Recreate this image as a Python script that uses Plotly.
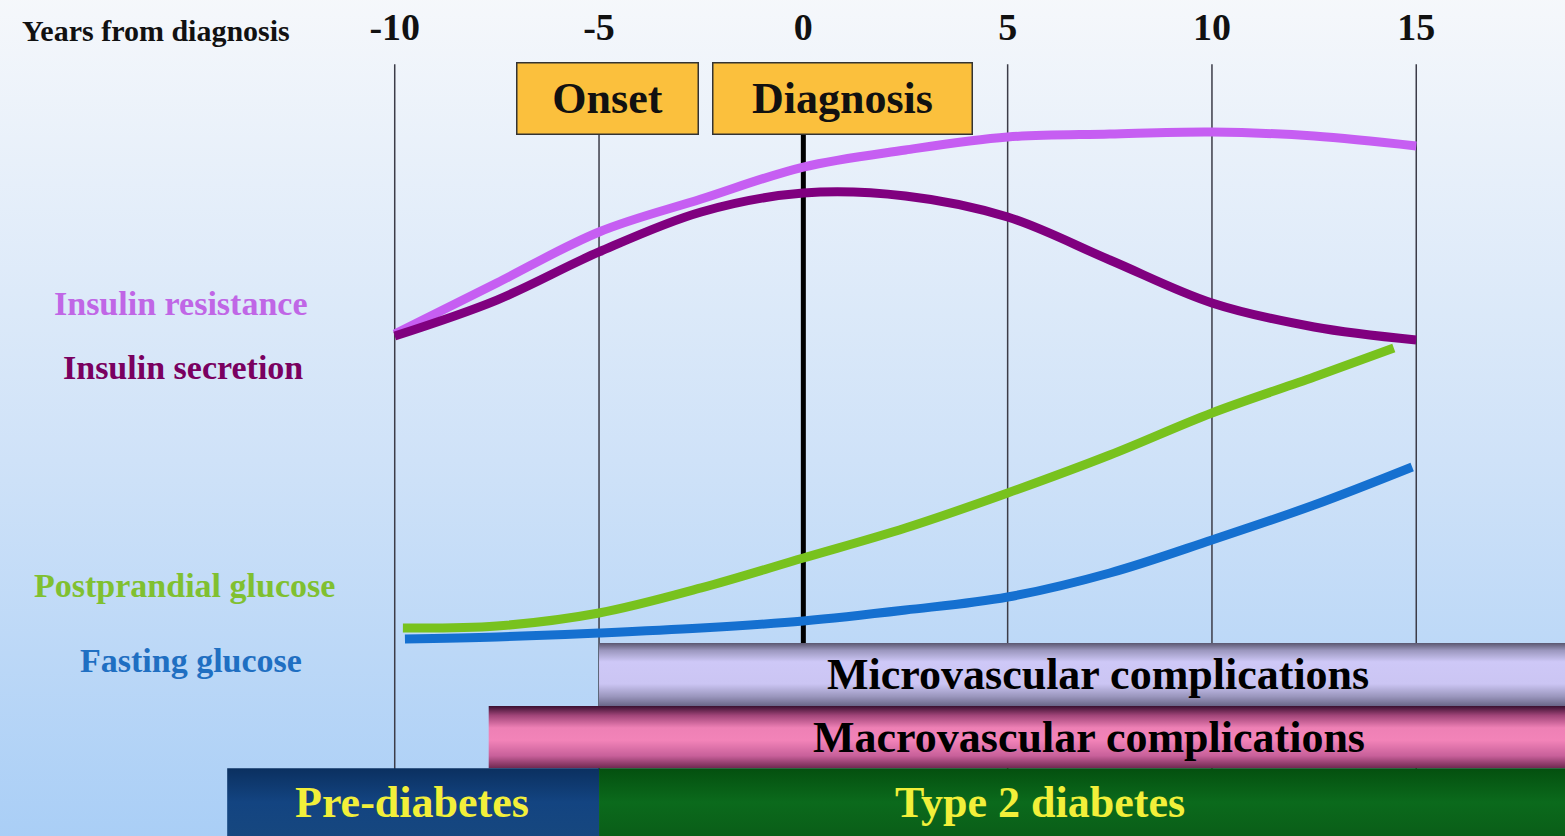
import plotly.graph_objects as go

# ---------------- data ----------------
tick_years = [-10, -5, 0, 5, 10, 15]
tick_labels = ["-10", "-5", "0", "5", "10", "15"]

res_years = [-10, -7.5, -5, -2.5, 0, 2.5, 5, 7.5, 10, 12.5, 15]
insulin_resistance = [60.05, 66.15, 72.25, 76.19, 80.02, 82.06, 83.61, 83.97, 84.21, 83.73, 82.54]

sec_years = [-10, -7.5, -5, -2.5, 0, 2.5, 5, 7.5, 10, 12.5, 15]
insulin_secretion = [59.81, 64.11, 69.86, 74.64, 76.91, 76.56, 74.04, 68.90, 63.76, 60.89, 59.33]

pp_years = [-9.8, -7.5, -5, -2.5, 0, 2.5, 5, 7.5, 10, 12.5, 14.45]
postprandial_glucose = [24.88, 25.12, 26.67, 29.67, 33.25, 36.84, 41.03, 45.57, 50.60, 54.90, 58.37]

fg_years = [-9.75, -7.5, -5, -2.5, 0, 2.5, 5, 7.5, 10, 12.5, 14.9]
fasting_glucose = [23.56, 23.80, 24.28, 24.88, 25.72, 27.03, 28.59, 31.46, 35.41, 39.59, 44.14]

band_labels = ["Microvascular complications", "Macrovascular complications",
               "Pre-diabetes", "Type 2 diabetes"]
band_start = [-5, -7.7, -14.1, -5]
band_end = [20, 20, -5, 20]
band_low = [15.55, 8.1, 0, 0]
band_high = [23.1, 15.55, 8.1, 8.1]
band_label_x = [7.2, 7.0, -9.57, 5.8]

event_labels = ["Onset", "Diagnosis"]
event_x = [-4.8, 0.96]

series_labels = ["Insulin resistance", "Insulin secretion",
                 "Postprandial glucose", "Fasting glucose"]

# ---------------- styles ----------------
W, H = 1565, 836
X_RANGE = [-19.66, 18.64]
SERIF = "Liberation Serif, Times New Roman, Times, serif"

curve_colors = ["#c65ef2", "#80007f", "#78c21e", "#1570d0"]
label_colors = ["#c066e6", "#7a0060", "#80c030", "#1f6fc2"]
band_scales = [
    [[0, "#6a6688"], [0.15, "#9a96bd"], [0.35, "#cbc5f3"], [0.7, "#cec8f7"],
     [0.88, "#9b97be"], [1, "#5a566e"]],
    [[0, "#6e2850"], [0.2, "#c8609a"], [0.45, "#f283b8"], [0.65, "#ee80b5"],
     [0.85, "#a04478"], [1, "#3a1030"]],
    [[0, "#16477f"], [0.5, "#134481"], [1, "#0b3060"]],
    [[0, "#0a5e18"], [0.5, "#0b6a1c"], [1, "#04500f"]],
]
band_text_colors = ["#000000", "#000000", "#f2ef3a", "#f2ef3a"]
series_label_pos = [(180, 303), (183, 367), (184, 585), (191, 660)]

fig = go.Figure()

# background gradient
fig.add_trace(go.Scatter(
    x=[X_RANGE[0] - 1, X_RANGE[1] + 1, X_RANGE[1] + 1, X_RANGE[0] - 1, X_RANGE[0] - 1],
    y=[-1, -1, 101, 101, -1], mode="lines", fill="toself",
    fillgradient=dict(type="vertical",
                      colorscale=[[0, "#a9cef6"], [0.45, "#cfe2f8"], [1, "#f6f8fb"]]),
    line=dict(width=0), hoverinfo="skip", showlegend=False))

# vertical year lines
vx, vy = [], []
for t in tick_years:
    if t == 0:
        continue
    vx += [t, t, None]
    vy += [92.3, 7.9, None]
fig.add_trace(go.Scatter(x=vx, y=vy, mode="lines",
                         line=dict(color="#3c3c48", width=1.5),
                         hoverinfo="skip", showlegend=False))
fig.add_trace(go.Scatter(x=[0, 0], y=[90, 20], mode="lines",
                         line=dict(color="#000000", width=5),
                         hoverinfo="skip", showlegend=False))

# curves
for xs, ys, col, name in [
    (res_years, insulin_resistance, curve_colors[0], series_labels[0]),
    (sec_years, insulin_secretion, curve_colors[1], series_labels[1]),
    (pp_years, postprandial_glucose, curve_colors[2], series_labels[2]),
    (fg_years, fasting_glucose, curve_colors[3], series_labels[3]),
]:
    fig.add_trace(go.Scatter(x=xs, y=ys, mode="lines", name=name,
                             line=dict(color=col, width=9, shape="spline", smoothing=1.0),
                             showlegend=False))

# bands
for i, lab in enumerate(band_labels):
    x0, x1, y0, y1 = band_start[i], band_end[i], band_low[i], band_high[i]
    fig.add_trace(go.Scatter(
        x=[x0, x1, x1, x0, x0], y=[y0, y0, y1, y1, y0], mode="lines", fill="toself",
        fillgradient=dict(type="vertical", colorscale=band_scales[i]),
        line=dict(width=0), hoverinfo="skip", showlegend=False))
    fig.add_annotation(x=band_label_x[i], y=(y0 + y1) / 2, text=f"<b>{lab}</b>",
                       showarrow=False, xanchor="center", yanchor="middle",
                       font=dict(family=SERIF, size=44, color=band_text_colors[i]))

# event boxes
event_w = [180, 258]
for i, lab in enumerate(event_labels):
    fig.add_annotation(x=event_x[i], y=88.2, text=f"<b>{lab}</b>", showarrow=False,
                       xanchor="center", yanchor="middle", width=event_w[i], height=70,
                       bgcolor="#fbc03d", bordercolor="#333333", borderwidth=1.5,
                       borderpad=0, font=dict(family=SERIF, size=44, color="#111111"))

# series labels (left)
for i, lab in enumerate(series_labels):
    px, py = series_label_pos[i]
    fig.add_annotation(x=px / W, y=1 - py / H, xref="paper", yref="paper",
                       text=f"<b>{lab}</b>", showarrow=False, xanchor="center",
                       yanchor="middle",
                       font=dict(family=SERIF, size=34, color=label_colors[i]))

fig.add_annotation(x=20 / W, y=1 - 30 / H, xref="paper", yref="paper",
                   text="<b>Years from diagnosis</b>", showarrow=False,
                   xanchor="left", yanchor="middle",
                   font=dict(family=SERIF, size=30, color="#111111"))

fig.update_layout(
    width=W, height=H, margin=dict(l=0, r=0, t=0, b=0),
    paper_bgcolor="#eef4fb", plot_bgcolor="rgba(0,0,0,0)",
    font=dict(family=SERIF), showlegend=False,
    xaxis=dict(range=X_RANGE, side="top", tickmode="array", tickvals=tick_years,
               ticktext=[f"<b>{t}</b>" for t in tick_labels],
               ticklabelposition="inside", ticklabelstandoff=10, ticks="",
               showgrid=False, zeroline=False, showline=False, fixedrange=True,
               tickfont=dict(family=SERIF, size=38, color="#111111")),
    yaxis=dict(range=[0, 100], visible=False, fixedrange=True),
)

fig.write_html("out.html",
               config={"displayModeBar": False},
               post_script="document.body.style.margin='0px';"
                           "document.body.style.padding='0px';"
                           "document.body.style.overflow='hidden';")
